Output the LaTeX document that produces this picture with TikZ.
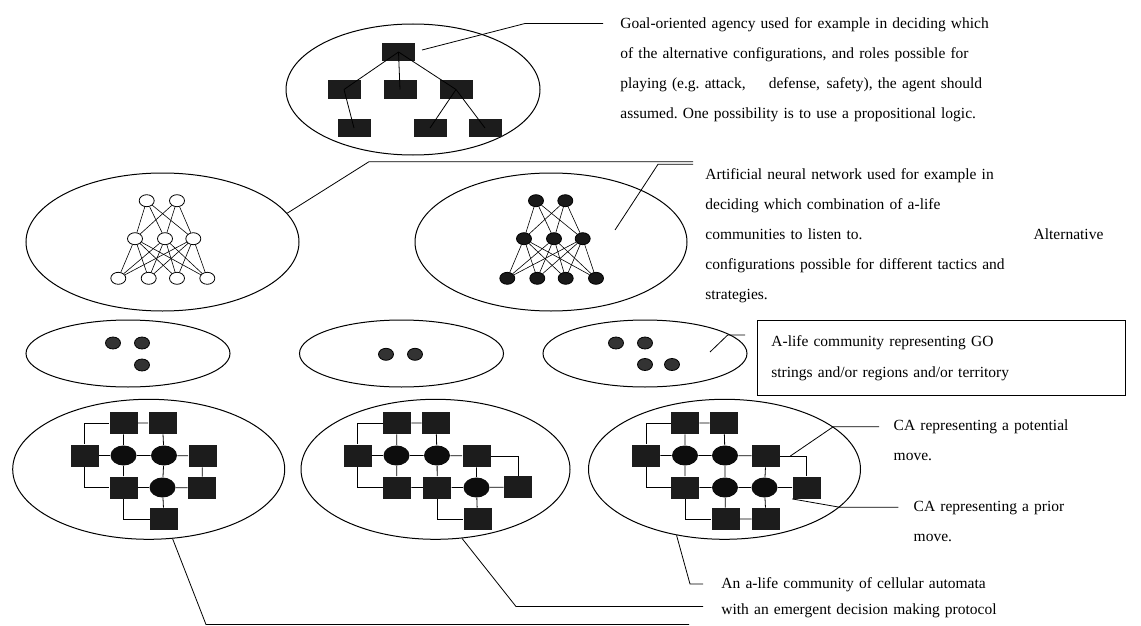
\documentclass[tikz,border=0pt]{standalone}
\usepackage{fontspec}
\setmainfont{Liberation Serif}
\usetikzlibrary{shapes.geometric}
\frenchspacing

\begin{document}
\begin{tikzpicture}[x=1pt,y=-1pt,line width=0.8pt]\fontsize{15.5}{30}\selectfont
	\tikzstyle{every node}+=[inner sep=0pt]
	\tikzstyle{bag}=[draw,ellipse,line width=1pt]
	\tikzstyle{goal}=[fill=black!89,minimum width=33,minimum height=18]
	\tikzstyle{neuron}=[draw,ellipse,fill=white,minimum width=15,minimum height=12]
	\tikzstyle{fired}=[neuron,fill=black!90]
	\tikzstyle{stone}=[draw,ellipse,fill=black!80,minimum width=15,minimum height=12]
	\tikzstyle{cell}=[fill=black!89,minimum width=28,minimum height=22]
	\tikzstyle{orb}=[ellipse,fill=black!95,minimum width=26,minimum height=20]
	\tikzstyle{note}=[anchor=base west,align=left]
	\useasboundingbox (0,0) rectangle (1141,626);

	\node[bag,minimum width=254,minimum height=131] (plan) at (413,89.5) {};
	\node[goal] (g0) at (398.5,52) {};
	\node[goal] (g1) at (344,89.5) {};
	\node[goal] (g2) at (400,89.5) {};
	\node[goal] (g3) at (456,89.5) {};
	\node[goal] (g4) at (354,128) {};
	\node[goal] (g5) at (430,128) {};
	\node[goal] (g6) at (485,128) {};
	\draw (g0.center) -- (g1.center) (g0.center) -- (g2.center) (g0.center) -- (g3.center);
	\draw (g1.center) -- (g4.center) (g3.center) -- (g5.center) (g3.center) -- (g6.center);

	\node[bag,minimum width=273,minimum height=138] (nnl) at (162.5,242) {};
	\node[neuron] (lt1) at (146.7,200.7) {};
	\node[neuron] (lt2) at (177,200.7) {};
	\node[neuron] (lm1) at (135,238.7) {};
	\node[neuron] (lm2) at (165,238.7) {};
	\node[neuron] (lm3) at (193.3,238.7) {};
	\node[neuron] (lb1) at (118.3,278.3) {};
	\node[neuron] (lb2) at (148.7,278.3) {};
	\node[neuron] (lb3) at (177,278.3) {};
	\node[neuron] (lb4) at (207.3,278.3) {};

	\node[bag,minimum width=272,minimum height=138] (nnr) at (551,242) {};
	\node[fired] (rt1) at (536,200.7) {};
	\node[fired] (rt2) at (565.3,200.7) {};
	\node[fired] (rm1) at (524,238.7) {};
	\node[fired] (rm2) at (554,238.7) {};
	\node[fired] (rm3) at (582.7,238.7) {};
	\node[fired] (rb1) at (507.3,278.3) {};
	\node[fired] (rb2) at (537.3,278.3) {};
	\node[fired] (rb3) at (565.7,278.3) {};
	\node[fired] (rb4) at (596,278.3) {};
	\foreach \s in {l,r} {
		\foreach \i in {1,2} \foreach \j in {1,2,3} \draw[line width=0.6pt] (\s t\i) -- (\s m\j);
		\foreach \j in {1,2,3} \foreach \k in {1,...,4} \draw[line width=0.6pt] (\s m\j) -- (\s b\k);
	}

	\node[bag,minimum width=204,minimum height=67] (go1) at (128,353.5) {};
	\node[stone] (s11) at (113,343) {};
	\node[stone] (s12) at (142,343) {};
	\node[stone] (s13) at (142,365) {};
	\node[bag,minimum width=204,minimum height=67] (go2) at (401.5,353.5) {};
	\node[stone] (s21) at (386,354.3) {};
	\node[stone] (s22) at (415,354.3) {};
	\node[bag,minimum width=204,minimum height=67] (go3) at (645,353.5) {};
	\node[stone] (s31) at (616,343) {};
	\node[stone] (s32) at (645,343) {};
	\node[stone] (s33) at (645,364.5) {};
	\node[stone] (s34) at (672,364.5) {};

	\node[bag,minimum width=272,minimum height=140] (ca1) at (148.7,469.3) {};
	\node[cell] (a12) at (123.5,423) {};
	\node[cell] (a13) at (162.5,423) {};
	\node[cell] (a21) at (84.5,455.5) {};
	\node[orb] (a22) at (123.5,455.5) {};
	\node[orb] (a23) at (164,455.5) {};
	\node[cell] (a24) at (202.5,456) {};
	\node[cell] (a32) at (123.5,487.5) {};
	\node[orb] (a33) at (162.5,487.5) {};
	\node[cell] (a34) at (202,488) {};
	\node[cell] (a43) at (164,519) {};
	\draw (a12) -- (a13) (a12) -- (a22) (a13) -- (a23) (a21) -- (a22) (a22) -- (a23) (a23) -- (a24);
	\draw (a22) -- (a32) (a23) -- (a33) (a24) -- (a34) (a32) -- (a33) (a33) -- (a34) (a33) -- (a43);
	\draw (a21) |- (a12) (a21) |- (a32) (a32) |- (a43);

	\node[bag,minimum width=269,minimum height=140] (ca2) at (435.5,469.3) {};
	\node[cell] (b12) at (397,423) {};
	\node[cell] (b13) at (436,423) {};
	\node[cell] (b21) at (357.5,455.5) {};
	\node[orb] (b22) at (396.5,455.5) {};
	\node[orb] (b23) at (437,455.5) {};
	\node[cell] (b24) at (476.5,456) {};
	\node[cell] (b32) at (397,487.5) {};
	\node[cell] (b33) at (437.3,487.5) {};
	\node[orb] (b34) at (476.5,487.5) {};
	\node[cell] (b35) at (518,487) {};
	\node[cell] (b44) at (477.5,519) {};
	\draw (b12) -- (b13) (b12) -- (b22) (b13) -- (b23) (b21) -- (b22) (b22) -- (b23) (b23) -- (b24);
	\draw (b22) -- (b32) (b23) -- (b33) (b24) -- (b34) (b32) -- (b33) (b33) -- (b34) (b34) -- (b35) (b34) -- (b44);
	\draw (b21) |- (b12) (b21) |- (b32) (b24) -| (b35) (b33) |- (b44);

	\node[bag,minimum width=272,minimum height=140] (ca3) at (724.5,469.3) {};
	\node[cell] (c12) at (685,423) {};
	\node[cell] (c13) at (724,423) {};
	\node[cell] (c21) at (646,455.5) {};
	\node[orb] (c22) at (685,455.5) {};
	\node[orb] (c23) at (725,455.5) {};
	\node[cell] (c24) at (766,456) {};
	\node[cell] (c32) at (685,487.5) {};
	\node[orb] (c33) at (725,487.5) {};
	\node[orb] (c34) at (764.5,487.5) {};
	\node[cell] (c35) at (806.5,487.5) {};
	\node[cell] (c43) at (725.5,519) {};
	\node[cell] (c44) at (766,519) {};
	\draw (c12) -- (c13) (c12) -- (c22) (c13) -- (c23) (c21) -- (c22) (c22) -- (c23) (c23) -- (c24);
	\draw (c22) -- (c32) (c23) -- (c33) (c24) -- (c34) (c32) -- (c33) (c33) -- (c34) (c34) -- (c35);
	\draw (c33) -- (c43) (c34) -- (c44) (c43) -- (c44);
	\draw (c21) |- (c12) (c21) |- (c32) (c24) -| (c35) (c32) |- (c43);

	\node[note,text width=380] (goaltext) at (620,28.3) {Goal-oriented agency used for example in deciding which\\of the alternative configurations, and roles possible for\\playing (e.g. attack,\hspace{18pt} defense,\hspace{1.5pt} safety), the agent should\\assumed. One possibility is to use a propositional logic.};
	\node[note,text width=398] (nntext) at (705,179) {Artificial neural network used for example in\\deciding which combination of a-life\\communities to listen to.\hspace{\fill}Alternative\\configurations possible for different tactics and\\strategies.};
	\node[draw,anchor=north west,text width=340,inner xsep=14,minimum height=75,align=left,font=\fontsize{15.5}{31}\selectfont] (gotext) at (757,320) {A-life community representing GO\\strings and/or regions and/or territory};
	\node[note,text width=220] (pottext) at (893.3,430.7) {CA representing a potential\\move.};
	\node[note,text width=220] (priortext) at (913.3,511.7) {CA representing a prior\\move.};
	\node[note,text width=380,font=\fontsize{15.5}{26}\selectfont] (catext) at (721,588) {An a-life community of cellular automata\\with an emergent decision making protocol};

	\coordinate (plantip) at (422,50);
	\coordinate (planend) at (603,23.5);
	\coordinate (nnrtip) at (615,230);
	\coordinate (nnend) at (693,161.7);
	\coordinate (nnrend) at (693,164.3);
	\coordinate (gotip) at (710,352);
	\coordinate (goend) at (745,335);
	\coordinate (potend) at (879,426.7);
	\coordinate (priorend) at (898.3,507.3);
	\coordinate (ca3end) at (703,584);
	\coordinate (ca2end) at (703,606.5);
	\coordinate (ca1end) at (689,624.5);
	\draw (plantip) -- (525,23.5) -- (planend);
	\draw (nnl.13) -- (369,161.7) -- (nnend);
	\draw (nnrtip) -- (658,164.3) -- (nnrend);
	\draw (gotip) -- (727.7,335) -- (goend);
	\draw ([xshift=10pt]c24.east) -- (833.3,426.7) -- (potend);
	\draw (c35.south west) -- (840,507.3) -- (priorend);
	\draw (ca3.-126) -- (690,584) -- (ca3end);
	\draw (ca2.-69) -- (516,606.5) -- (ca2end);
	\draw (ca1.-71) -- (206,624.5) -- (ca1end);
\end{tikzpicture}
\end{document}
